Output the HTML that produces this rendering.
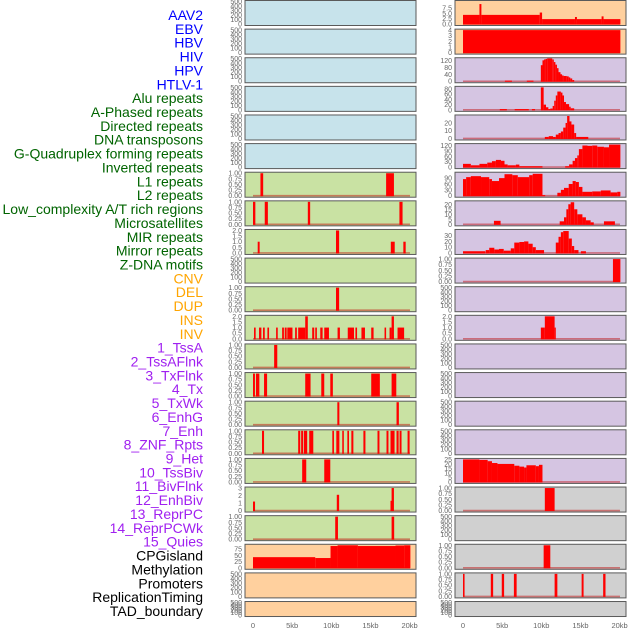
<!DOCTYPE html>
<html><head><meta charset="utf-8"><style>
html,body{margin:0;padding:0;background:#fff;width:630px;height:630px;overflow:hidden}
svg{display:block;font-family:"Liberation Sans",sans-serif}
</style></head><body>
<svg id="chart" width="630" height="630" viewBox="0 0 630 630"></svg>
<script>
const labels=["AAV2","EBV","HBV","HIV","HPV","HTLV-1","Alu repeats","A-Phased repeats","Directed repeats","DNA transposons","G-Quadruplex forming repeats","Inverted repeats","L1 repeats","L2 repeats","Low_complexity A/T rich regions","Microsatellites","MIR repeats","Mirror repeats","Z-DNA motifs","CNV","DEL","DUP","INS","INV","1_TssA","2_TssAFlnk","3_TxFlnk","4_Tx","5_TxWk","6_EnhG","7_Enh","8_ZNF_Rpts","9_Het","10_TssBiv","11_BivFlnk","12_EnhBiv","13_ReprPC","14_ReprPCWk","15_Quies","CPGisland","Methylation","Promoters","ReplicationTiming","TAD_boundary"];
const labelGroups=[6,13,5,15,5];
const xTickKb=[0,5,10,15,20];
const xTickLabels=["0","5kb","10kb","15kb","20kb"];
// segments: [startKb,endKb,value]
const L6=[[0.95,1.3,1],[17,18,1]];
const L7=[[0,0.3,1],[1.5,1.9,1],[7,7.3,1],[18.7,19.1,1]];
const L8=[[0.6,0.85,1],[10.6,11,2],[17.6,18.1,1],[19.2,19.5,1]];
const L10=[[10.6,11,1]];
const L11=[[0.13,0.34,1],[0.77,1.07,1],[1.28,1.5,1],[1.84,2.05,1],[2.95,3.16,1],[3.72,3.95,1],[4.05,4.3,1],[4.38,5.04,1],[5.38,5.6,1],[5.77,6.67,1],[6.67,7,2],[7.56,7.82,1],[7.95,8.16,1],[8.59,8.89,1],[9.1,9.7,1],[10.8,11.1,1],[12.1,12.9,1],[13.08,13.29,1],[13.85,14.3,1],[15.1,15.4,1],[16.8,17,1],[17.44,17.7,1],[17.7,18,2],[18.46,19.3,1]];
const L12=[[2.7,3.1,1]];
const L13=[[0,0.25,1],[0.38,0.81,1],[1.41,1.8,1],[6.67,7.35,1],[8.72,9.1,1],[9.87,10.2,1],[15.1,16.2,1],[17.7,18.3,1]];
const L14=[[10.77,11.03,1],[18.33,18.63,1]];
const L15=[[1.15,1.41,1],[5.77,6.03,1],[6.15,6.4,1],[6.5,6.92,1],[7.18,7.7,1],[10.13,10.34,1],[10.64,11.03,1],[11.4,11.6,1],[12.05,12.26,1],[12.56,12.82,1],[14.1,14.36,1],[15.9,16.15,1],[17.05,17.3,1],[17.56,18.08,1],[18.33,18.6,1],[18.72,18.97,1],[19.74,20,1]];
const L16=[[6.28,6.8,1],[9.1,9.87,1]];
const L17=[[0,0.26,1.2],[10.7,11,2.1],[17.56,17.86,1.3],[17.7,18,3]];
const L18=[[10.5,10.85,1],[17.7,18.03,1]];
const L19=[[0,7.95,42.5],[7.95,9.9,39],[9.9,10.8,87],[10.8,13.4,90],[13.4,18.2,87],[18.2,19.3,89],[19.3,20.1,90]];
const R0=[[0,2.1,4.3],[2.1,2.35,9.4],[2.35,9.8,4.3],[9.8,10.1,5.4],[10.1,14.3,2.3],[14.3,14.55,3.3],[14.55,17.7,2.3],[17.7,17.95,3.6],[17.95,20.1,2.3]];
const R1=[[0,20.1,4]];
const R2=[[5.35,6.25,4],[8.15,9,4],[9.94,10.15,92],[10.15,10.35,120],[10.35,10.55,125],[10.55,10.75,128],[10.75,11.4,131],[11.4,11.6,125],[11.6,11.8,110],[11.8,12,95],[12,12.2,75],[12.2,12.45,52],[12.45,12.65,40],[12.65,12.85,33],[12.85,13.25,30],[13.25,13.5,28],[13.5,13.7,22],[13.7,13.95,16],[13.95,14.2,7]];
const R3=[[4.7,5.6,3],[6.6,8.4,3],[8.8,9.2,3],[9.94,10.3,86],[10.3,10.6,20],[10.6,10.9,10],[10.9,11.15,3],[11.15,11.45,5],[11.45,11.65,15],[11.65,11.85,35],[11.85,12.05,55],[12.05,12.5,70],[12.5,12.7,66],[12.7,12.9,55],[12.9,13.15,30],[13.15,13.55,22],[13.55,13.75,12],[13.75,14.2,6]];
const R4=[[10.45,10.95,2],[10.95,11.5,3],[11.5,11.85,2],[11.85,12.2,5],[12.2,12.5,7],[12.5,12.8,9],[12.8,13.1,14],[13.1,13.3,20],[13.3,13.6,29],[13.6,13.85,22],[13.85,14.2,18],[14.2,14.45,7],[14.45,16,2]];
const R5=[[0,1,18],[1,2.1,10],[2.1,3.1,18],[3.1,3.7,25],[3.7,4.2,33],[4.2,4.85,40],[4.85,5.3,35],[5.3,5.7,15],[5.7,6.75,10],[6.75,7.2,14],[7.2,10.15,5],[13.05,13.55,5],[13.55,14,15],[14,14.3,35],[14.3,14.6,50],[14.6,14.8,65],[14.8,15.25,100],[15.25,15.9,120],[15.9,16.5,118],[16.5,17.15,120],[17.15,18,113],[18,18.65,110],[18.65,20.1,125]];
const R6=[[0,0.4,85],[0.4,1,95],[1,2.3,100],[2.3,3.35,95],[3.35,3.7,85],[3.7,4.6,75],[4.6,5.3,90],[5.3,6.3,110],[6.3,7,105],[7,8.45,95],[8.45,8.9,105],[8.9,10.15,112],[10.15,10.5,3],[12.05,12.5,15],[12.5,12.9,30],[12.9,13.5,40],[13.5,14,60],[14,14.4,75],[14.4,14.8,70],[14.8,15.25,45],[15.25,16.5,20],[16.5,17.6,22],[17.6,18.85,27],[18.85,19.7,17],[19.7,20.1,20]];
const R7=[[3.95,4.8,3.5],[12.35,12.9,3],[12.9,13.2,7],[13.2,13.45,15],[13.45,13.75,20],[13.75,14.2,22],[14.2,14.6,15],[14.6,15.25,10],[15.25,15.7,7],[15.7,16.3,4],[16.3,16.7,2],[18,19.4,3]];
const R8=[[0,2.85,3],[2.9,3.35,5],[3.35,4,9],[4,4.6,6],[4.6,5.2,7],[5.2,6.1,4],[6.1,6.55,8],[6.55,7.2,18],[7.2,7.8,19],[7.8,8.35,20],[8.35,8.9,16],[8.9,9.3,10],[9.3,10.35,5],[11.85,12.2,18],[12.2,12.5,28],[12.5,12.8,36],[12.8,13.5,38],[13.5,13.9,25],[13.9,14.2,12],[14.2,14.75,5],[15.05,15.7,3]];
const R9=[[19.15,20.1,1]];
const R11=[[9.94,10.45,1],[10.45,11.7,2],[11.7,11.85,1]];
const R16=[[0,2.1,25],[2.1,3.15,24.5],[3.15,3.7,23],[3.7,4.4,21],[4.4,6.55,20],[6.55,7.2,18],[7.2,7.8,17],[7.8,8.1,16],[8.1,9.3,18.5],[9.3,9.7,17.5],[9.7,10.15,19]];
const R17=[[10.45,11.7,1]];
const R19=[[10.3,11.15,1]];
const R20=[[0,0.2,1],[3.55,3.85,1],[4.95,5.25,1],[6.5,6.85,1],[11.7,12.05,1],[15.15,15.4,1],[17.9,18.2,1]];

const LB="#c7e3eb",GR="#c9e2a3",PE="#ffd09e",LA="#d5c5e2",GY="#d0d0d0";
const T1=[[0,"0.00"],[0.25,"0.25"],[0.5,"0.50"],[0.75,"0.75"],[1,"1.00"]];
const T2=[[0,"0.0"],[0.5,"0.5"],[1,"1.0"],[1.5,"1.5"],[2,"2.0"]];
const TE=[[0,"0"],[100,"100"],[200,"200"],[300,"300"],[400,"400"],[500,"500"]];
function E(bg){return {bg:bg,max:500,ticks:TE,data:null};}
const leftCol=[E(LB),E(LB),E(LB),E(LB),E(LB),E(LB),
{bg:GR,max:1,ticks:T1,data:L6},{bg:GR,max:1,ticks:T1,data:L7},{bg:GR,max:2,ticks:T2,data:L8},E(GR),
{bg:GR,max:1,ticks:T1,data:L10},{bg:GR,max:2,ticks:T2,data:L11},{bg:GR,max:1,ticks:T1,data:L12},{bg:GR,max:1,ticks:T1,data:L13},
{bg:GR,max:1,ticks:T1,data:L14},{bg:GR,max:1,ticks:T1,data:L15},{bg:GR,max:1,ticks:T1,data:L16},
{bg:GR,max:3,ticks:[[0,"0"],[1,"1"],[2,"2"],[3,"3"]],data:L17},{bg:GR,max:1,ticks:T1,data:L18},
{bg:PE,max:90,ticks:[[0,"0"],[25,"25"],[50,"50"],[75,"75"]],data:L19},E(PE),E(PE)];
const rightCol=[{bg:PE,max:10.6,ticks:[[0,"0.0"],[2.5,"2.5"],[5,"5.0"],[7.5,"7.5"]],data:R0},
{bg:PE,max:4,ticks:[[0,"0"],[1,"1"],[2,"2"],[3,"3"],[4,"4"]],data:R1},
{bg:LA,max:129,ticks:[[0,"0"],[40,"40"],[80,"80"],[120,"120"]],data:R2},
{bg:LA,max:86,ticks:[[0,"0"],[20,"20"],[40,"40"],[60,"60"],[80,"80"]],data:R3},
{bg:LA,max:29,ticks:[[0,"0"],[10,"10"],[20,"20"]],data:R4},
{bg:LA,max:125,ticks:[[0,"0"],[30,"30"],[60,"60"],[90,"90"],[120,"120"]],data:R5},
{bg:LA,max:115,ticks:[[0,"0"],[30,"30"],[60,"60"],[90,"90"]],data:R6},
{bg:LA,max:22.4,ticks:[[0,"0"],[5,"5"],[10,"10"],[15,"15"],[20,"20"]],data:R7},
{bg:LA,max:39,ticks:[[0,"0"],[10,"10"],[20,"20"],[30,"30"]],data:R8},
{bg:LA,max:1,ticks:T1,data:R9},E(LA),{bg:LA,max:2,ticks:T2,data:R11},E(LA),E(LA),E(LA),E(LA),
{bg:LA,max:25,ticks:[[0,"0"],[5,"5"],[10,"10"],[15,"15"],[20,"20"],[25,"25"]],data:R16},
{bg:GY,max:1,ticks:T1,data:R17},E(GY),{bg:GY,max:1,ticks:T1,data:R19},{bg:GY,max:1,ticks:T1,data:R20},E(GY)];

const NS="http://www.w3.org/2000/svg";
const svg=document.getElementById("chart");
function mk(tag,attrs,parent){const e=document.createElementNS(NS,tag);for(const k in attrs)e.setAttribute(k,attrs[k]);(parent||svg).appendChild(e);return e;}

// labels
const groupColors=["#0000ff","#006400","#ffa500","#a020f0","#000000"];
let li=0;
labelGroups.forEach((n,g)=>{for(let k=0;k<n;k++){const t=mk("text",{x:203,y:15+li*13.86+5,"text-anchor":"end","font-size":"14",fill:groupColors[g]});t.textContent=labels[li];


li++;}});

function drawCol(col,x0,side){
  const w=171;
  const xs=kb=>x0+8+kb*7.83;
  col.forEach((p,i)=>{
    const top=0.5+i*28.62, h=(i===col.length-1)?15:25;
    const g=mk("g",{});
    
    
    mk("rect",{x:x0,y:top,width:w,height:h,fill:p.bg,stroke:"#5a5a5a","stroke-width":"1"},g);
    const yb=top+h-1.5, yt=top+1;
    const ys=v=>yb-(v/p.max)*(yb-yt);
    p.ticks.forEach(tk=>{const t=mk("text",{x:x0-3,y:ys(tk[0])+2.5,"text-anchor":"end","font-size":"7",fill:"#666"},g);t.textContent=tk[1];
      
      });
    if(p.data){
      mk("line",{x1:xs(0),x2:xs(20.05),y1:yb,y2:yb,stroke:"rgba(190,0,0,0.45)","stroke-width":"1.6"},g);
      p.data.forEach(s=>{const r=mk("rect",{x:xs(s[0]),y:ys(s[2]),width:Math.max(1,xs(s[1])-xs(s[0])),height:yb-ys(s[2])+0.5,fill:"#ff0000"},g);
        
        });
    }
  });
  xTickKb.forEach((kb,j)=>{const t=mk("text",{x:xs(kb),y:628,"text-anchor":"middle","font-size":"7.5",fill:"#666"});t.textContent=xTickLabels[j];
    
    });
}
drawCol(leftCol,245,'left');
drawCol(rightCol,455,'right');
</script>
</body></html>
